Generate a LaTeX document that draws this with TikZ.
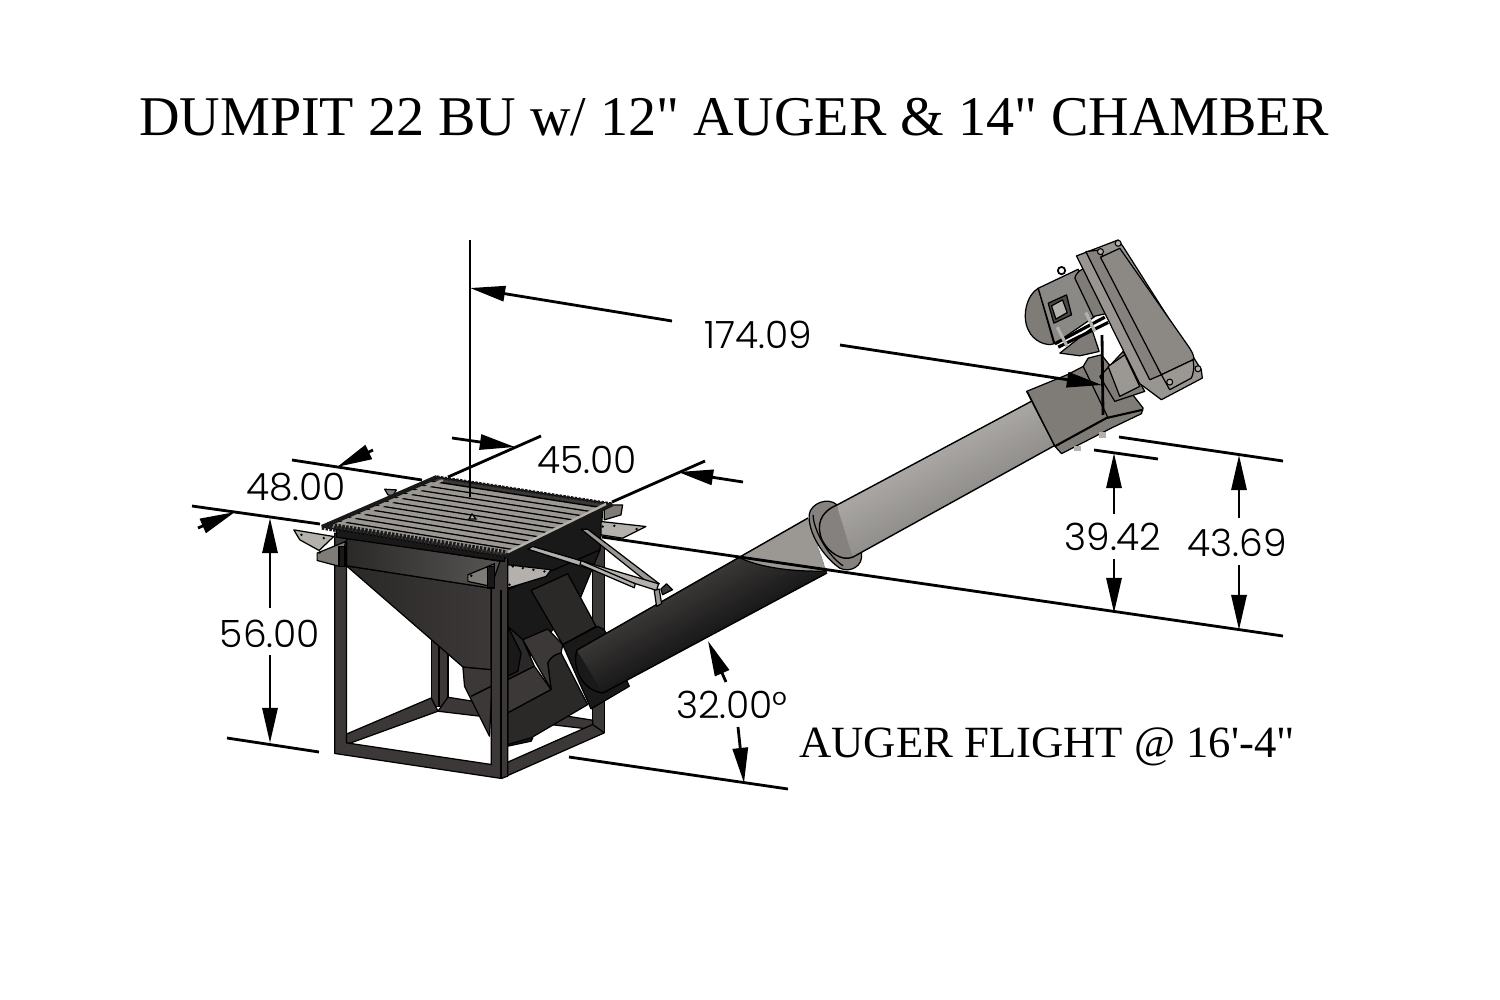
\documentclass[tikz,border=0pt]{standalone}
\usepackage{fontspec}
\usetikzlibrary{arrows.meta,calc}
\newfontfamily\titlefont{Liberation Serif}
\newfontfamily\dimfont{Poppins Light}
\definecolor{steelA}{HTML}{2B2928}
\definecolor{steelB}{HTML}{3B3837}
\definecolor{steelC}{HTML}{1A1919}
\definecolor{greyA}{HTML}{9B9894}
\definecolor{greyB}{HTML}{B4B1AC}
\definecolor{greyC}{HTML}{7F7C78}
\newcommand{\tubestrips}[6]{%
  \foreach \strip in {0,1,...,14}{%
    \pgfmathsetmacro{\tpos}{\strip/14}%
    \pgfmathtruncatemacro{\mixval}{100*\tpos}%
    \draw[line width=1.8pt,#5!\mixval!#6] ($(#1)!\tpos!(#3)$) -- ($(#2)!\tpos!(#4)$);
  }}
\tikzset{
  dimline/.style={line width=.8pt,black},
  dimarrow/.style={dimline,-{Triangle[length=10pt,width=4.3pt]}},
  dimtext/.style={font=\dimfont\fontsize{10.7pt}{12pt}\selectfont,inner sep=0pt},
  part/.style={draw=black,line width=.35pt,line join=round},
  zoomA/.style={shift={(180,430)},x=.0033333cm,y=-.0033333cm},
  zoomB/.style={shift={(980,220)},x=.0033333cm,y=-.0033333cm},
  zoomC/.style={shift={(680,440)},x=.0033333cm,y=-.0033333cm}
}
\begin{document}
\begin{tikzpicture}[x=.01cm,y=-.01cm]
  \useasboundingbox (0,0) rectangle (1500,1000);
  \fill[white] (0,0) rectangle (1500,1000);

  % stand, parts behind, then the lower auger
  \begin{scope}[zoomA]
    \filldraw[part,fill=steelB] (1240,340) rectangle (1275,910);
    \filldraw[part,fill=steelB] (755,630) rectangle (805,830);
    \draw[black] (778,640) -- (778,830);
    \filldraw[part,fill=steelB] (497,915) -- (755,805) -- (775,845) -- (500,945) -- cycle;
    \filldraw[part,fill=steelB] (805,803) -- (1240,872) -- (1240,900) -- (775,845) -- cycle;
    \filldraw[part,fill=steelB] (985,998) -- (1240,885) -- (1275,910) -- (965,1047) -- cycle;
    \filldraw[part,fill=steelC] (985,480) -- (1265,240) -- (1262,360) -- (1205,500) -- (1015,725) -- (985,590) -- cycle;
    % boot under the hopper
    \filldraw[part,fill=steelB] (850,712) -- (855,770) -- (930,920) -- (940,720) -- cycle;
    \draw[black] (875,800) -- (935,770);
    % chutes
    \filldraw[part,fill=steelA] (985,590) -- (1030,630) -- (1065,710) -- (985,750) -- cycle;
    \filldraw[part,fill=steelC] (985,590) -- (1025,670) -- (1015,725) -- (985,740) -- cycle;
    \filldraw[part,fill=steelB] (985,750) -- (1065,710) -- (1115,780) -- (985,850) -- cycle;
    \filldraw[part,fill=steelC] (985,900) -- (1060,925) -- (1055,935) -- (985,950) -- cycle;
    \filldraw[part,fill=steelA] (985,850) -- (1115,780) -- (1105,700) .. controls (1115,680) and (1130,672) .. (1145,670) -- (1225,825) -- (1055,925) -- (985,945) -- cycle;
    \filldraw[part,fill=steelB] (1030,630) -- (1105,598) -- (1150,645) -- (1145,670) .. controls (1130,672) and (1115,680) .. (1105,700) -- (1115,780) -- cycle;
    \filldraw[part,fill=steelA] (1055,482) -- (1165,432) -- (1250,590) -- (1150,645) -- cycle;
    \filldraw[part,fill=steelC] (1150,645) -- (1255,590) -- (1275,600) -- (1350,770) -- (1235,838) -- cycle;
    % hopper and front of the stand
    \shade[part,left color=steelA,right color=steelB] (500,408) -- (935,475) -- (935,720) -- (850,712) -- cycle;
    \shade[part,left color=steelA,right color=steelB!85!white] (500,322) -- (965,395) -- (965,480) -- (500,408) -- cycle;
    \filldraw[part,fill=steelC] (975,382) -- (1270,240) -- (1262,360) -- (985,480) -- cycle;
    \filldraw[part,fill=steelB] (465,310) -- (500,315) -- (500,940) -- (935,1005) -- (935,470) -- (965,385) -- (985,385) -- (985,1040) -- (965,1047) -- (465,972) -- cycle;
    \draw[black] (965,480) -- (965,1047);
    \draw[black] (500,915) -- (500,940);
    \filldraw[part,fill=steelC] (470,300) -- (975,375) -- (975,395) -- (470,322) -- cycle;
  \end{scope}

  % long tube, the dark part and the lit part
  \coordinate (dU1) at (808,518);
  \coordinate (dU2) at (577,650);
  \coordinate (dL1) at (827,573);
  \coordinate (dL2) at (603,693);
  \begin{scope}
    \clip (808,518) -- (577,650) .. controls (572,665) and (580,690) .. (603,693) -- (827,573) -- cycle;
    \tubestrips{dU1}{dU2}{dL1}{dL2}{steelC}{steelB}
    \fill[greyA] (808,518) -- (738,557) .. controls (760,568) and (795,572) .. (827,571) -- (850,540) -- cycle;
  \end{scope}
  \draw[line width=.4pt,black] (808,518) -- (577,650) .. controls (572,665) and (580,690) .. (603,693) -- (827,573);
  \draw[line width=.35pt,black] (738,557) .. controls (760,568) and (795,572) .. (827,571);

  % brackets and struts
  \begin{scope}[zoomA]
    \filldraw[part,fill=greyB] (342,300) -- (462,320) -- (418,362) -- (360,330) -- cycle;
    \filldraw[part,fill=greyC] (412,370) -- (498,335) -- (480,410) -- (412,392) -- cycle;
    \filldraw[part,fill=steelC] (478,350) rectangle (496,410);
    \filldraw[part,fill=greyC] (865,435) -- (945,402) -- (935,470) -- (865,455) -- cycle;
    \filldraw[part,fill=steelC] (925,410) rectangle (945,475);
    \filldraw[part,fill=greyB] (985,405) -- (1115,420) -- (1100,440) -- (985,475) -- cycle;
    \filldraw[part,fill=greyB] (1265,275) -- (1400,290) -- (1330,325) -- (1265,315) -- cycle;
    \filldraw[part,fill=greyC] (1275,225) -- (1330,225) -- (1325,255) -- (1275,270) -- cycle;
    \filldraw[part,fill=greyC] (615,178) -- (650,180) -- (640,198) -- (625,195) -- cycle;
    \foreach \bx/\by in {365/315,432/325,420/368,875/438,1000/410,1030/415,1062/420,1095/425,990/465,1305/288,1372/298,1270/290}
      \fill[black] (\bx,\by) circle (4);
    \filldraw[part,fill=greyA] (1205,298) -- (1225,298) -- (1440,462) -- (1420,470) -- cycle;
    \filldraw[part,fill=greyB] (1045,358) -- (1060,350) -- (1438,462) -- (1432,482) -- cycle;
    \filldraw[part,fill=greyB] (1205,392) -- (1368,462) -- (1365,474) -- (1202,404) -- cycle;
    \filldraw[part,fill=greyA] (1425,482) -- (1440,478) -- (1447,522) -- (1432,530) -- cycle;
    \filldraw[part,fill=steelB] (1445,478) -- (1462,462) -- (1480,480) -- (1450,495) -- cycle;
  \end{scope}

  % grate
  \coordinate (gL) at (322,527);
  \coordinate (gT) at (437,477);
  \coordinate (gR) at (612,504);
  \coordinate (gF) at (505,557);
  \filldraw[part,fill=steelB] (gL) -- (gT) -- (gR) -- (gF) -- cycle;
  \foreach \slat in {.09,.17,...,.93}{
    \draw[line width=1.35pt,greyA] ($(gL)!\slat!(gT)$) -- ($(gF)!\slat!(gR)$);
    \draw[line width=.4pt,black] ($(gL)!\slat+.035!(gT)$) -- ($(gF)!\slat+.035!(gR)$);
  }
  \draw[line width=1.2pt,steelC] (gL) -- (gT);
  \draw[line width=.7pt,greyA] ($(gL)+(10,0)$) -- ($(gT)+(6,3)$);
  \draw[line width=1.5pt,dash pattern=on .7pt off .4pt,steelC] (gL) -- (gF);
  \draw[line width=1pt,dash pattern=on .7pt off .4pt,steelC] ($(gL)+(5,-3)$) -- ($(gF)+(2,-5)$);
  \draw[line width=.9pt,dash pattern=on .7pt off .4pt,steelC] (gT) -- (gR);
  \draw[line width=1.4pt,steelC] (gF) -- (gR);
  \draw[line width=.7pt,greyB] ($(gF)+(3,-5)$) -- ($(gR)+(-6,0)$);
  \draw[line width=.35pt,black,fill=greyB] (469,519) -- (472,514) -- (476,519) -- cycle;

  % flange and upper tube
  \coordinate (uU1) at (837,505);
  \coordinate (uU2) at (1045,394);
  \coordinate (uL1) at (853,557);
  \coordinate (uL2) at (1070,437);
  \begin{scope}[zoomC]
    \filldraw[part,fill=greyA!85!black] (388,225) .. controls (392,190) and (445,170) .. (472,195) -- (545,340) .. controls (552,380) and (510,400) .. (480,385) .. controls (430,350) and (385,280) .. (388,225) -- cycle;
    \draw[black,line width=.35pt] (400,225) .. controls (400,265) and (440,345) .. (490,378);
  \end{scope}
  \begin{scope}
    \clip (837,505) .. controls (820,512) and (816,525) .. (822,540) .. controls (828,552) and (842,562) .. (853,557) -- (1070,437) -- (1045,394) -- cycle;
    \tubestrips{uU1}{uU2}{uL1}{uL2}{greyC}{greyA!85!white}
  \end{scope}
  \draw[line width=.4pt,black] (1045,394) -- (837,505) .. controls (820,512) and (816,525) .. (822,540) .. controls (828,552) and (842,562) .. (853,557) -- (1070,437);

  % head of the auger
  \begin{scope}[zoomB]
    \filldraw[part,fill=greyC] (140,515) -- (262,465) -- (310,440) -- (325,415) -- (365,405) -- (490,565) -- (485,582) -- (395,625) -- (245,702) -- (225,680) -- cycle;
    \draw[black,line width=.6pt] (225,680) -- (380,595) -- (490,570);
    \draw[black,line width=.35pt] (143,517) -- (225,680);
    \draw[black,line width=.35pt] (310,440) -- (385,595);
    \fill[greyB] (282,678) rectangle (302,694);
    \fill[greyB] (358,636) rectangle (378,654);
    \filldraw[part,fill=greyC] (240,400) -- (335,325) -- (358,395) -- (300,408) -- cycle;
    \filldraw[part,fill=greyC] (360,470) -- (430,395) -- (495,515) -- (405,545) -- cycle;
    \filldraw[part,fill=greyA] (385,440) -- (435,405) -- (480,500) -- (420,530) -- cycle;
    % motor
    \filldraw[part,fill=greyC] (175,205) .. controls (140,225) and (125,290) .. (145,330) .. controls (160,365) and (200,380) .. (222,372) -- cycle;
    \filldraw[part,fill=greyA!90!black] (175,205) -- (295,148) -- (345,290) -- (225,372) -- cycle;
    \filldraw[part,fill=greyC] (285,175) .. controls (290,150) and (320,140) .. (340,140) -- (385,280) -- (340,290) -- cycle;
    \filldraw[part,fill=greyC!60!black] (205,250) -- (260,225) -- (275,285) -- (222,310) -- cycle;
    \filldraw[part,fill=greyB] (215,258) -- (248,240) -- (262,278) -- (228,298) -- cycle;
    \draw[black,line width=.9pt] (225,372) -- (375,292);
    \draw[black,line width=.9pt] (235,382) -- (385,308);
    \draw[greyB,line width=.9pt] (232,322) -- (262,380);
    \draw[greyB,line width=.9pt] (318,278) -- (345,335);
    \draw[line width=.5pt] (245,152) circle (11);
    % belt guard
    \filldraw[part,fill=greyB!85!black] (290,108) -- (415,60) -- (430,80) -- (665,450) -- (668,475) -- (545,540) -- (505,510) -- (480,492) -- cycle;
    \filldraw[part,fill=greyA!85!black] (318,95) -- (360,90) -- (545,465) -- (510,480) -- cycle;
    \filldraw[part,fill=greyC!90!white] (362,112) -- (420,85) -- (630,385) .. controls (642,405) and (645,415) .. (640,420) -- (545,465) -- cycle;
    \filldraw[part,fill=greyA] (545,465) -- (640,420) .. controls (645,445) and (640,465) .. (635,475) -- (570,510) -- cycle;
    \foreach \bx/\by in {415/70,362/95,655/447,570/487}
      \filldraw[line width=.3pt,fill=greyB,draw=black] (\bx,\by) circle (9);
  \end{scope}

  % dimension lines
  \draw[dimline] (470,240) -- (470,497);
  \node[dimtext] (lenlabel) at (758,335) {174.09};
  \draw[dimarrow] (672,321) -- (470,288);
  \draw[dimarrow] (840,345) -- (1102,385);
  \draw[dimline] (1102,335) -- (1103,415);
  \node[dimtext] (widelabel) at (587,460) {45.00};
  \draw[dimline] (448,477) -- (541,436);
  \draw[dimarrow] (452,438) -- (515,447);
  \draw[dimline] (612,502) -- (705,461);
  \draw[dimarrow] (743,482) -- (678,472);
  \node[dimtext] (deeplabel) at (296,487) {48.00};
  \draw[dimline] (292,460) -- (422,480);
  \draw[dimarrow] (373,450) -- (337,467);
  \draw[dimline] (192,506) -- (320,524);
  \draw[dimarrow] (198,528) -- (235,512);
  \node[dimtext] (highlabel) at (270,634) {56.00};
  \draw[dimarrow] (270,608) -- (270,518);
  \draw[dimarrow] (270,655) -- (270,743);
  \draw[dimline] (227,738) -- (319,752);
  \draw[dimline] (602,537) -- (1283,636);
  \node[dimtext] (spoutlabel) at (1113,537) {39.42};
  \draw[dimline] (1094,450) -- (1158,459);
  \draw[dimarrow] (1114,514) -- (1114,453);
  \draw[dimarrow] (1114,559) -- (1114,613);
  \node[dimtext] (toplabel) at (1237,543) {43.69};
  \draw[dimline] (1119,437) -- (1283,461);
  \draw[dimarrow] (1239,518) -- (1239,455);
  \draw[dimarrow] (1239,565) -- (1239,630);
  \node[dimtext] (anglelabel) at (732,705) {32.00°};
  \draw[dimarrow] (726,682) -- (708,641);
  \draw[dimarrow] (738,727) -- (744,783);
  \draw[dimline] (569,757) -- (788,789);

  % texts
  \node[inner sep=0pt,font=\titlefont\fontsize{15.95pt}{18pt}\selectfont] (title) at (734,117) {DUMPIT 22 BU w/ 12" AUGER \& 14" CHAMBER};
  \node[inner sep=0pt,font=\titlefont\fontsize{12.7pt}{14pt}\selectfont] (flightnote) at (1047,747) {AUGER FLIGHT @ 16'-4"};
\end{tikzpicture}
\end{document}
